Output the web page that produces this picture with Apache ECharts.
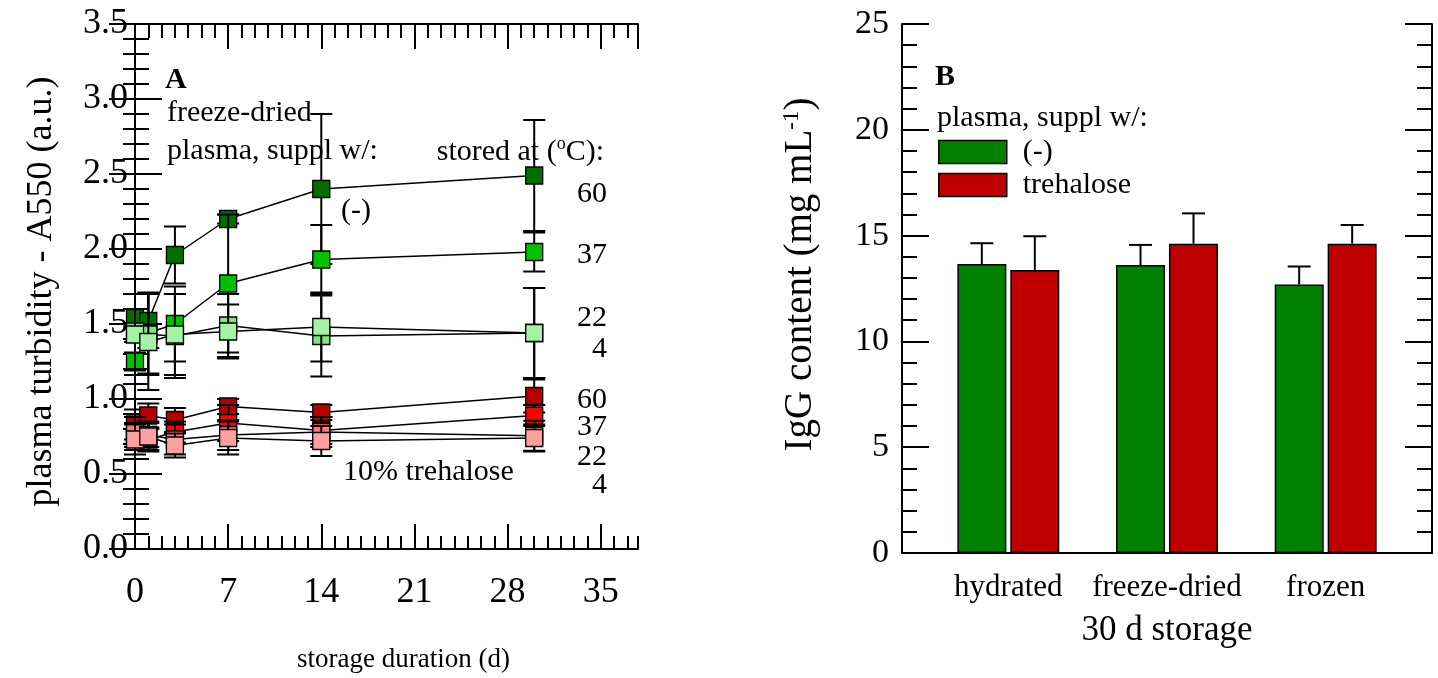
<!DOCTYPE html>
<html>
<head>
<meta charset="utf-8">
<script src="https://cdn.jsdelivr.net/npm/echarts@6/dist/echarts.min.js"></script>
<style>
  html, body { margin: 0; padding: 0; background: #fff; }
  #chart { width: 1438px; height: 678px; }
</style>
</head>
<body>
<div id="chart"></div>
<script>
// ---- Panel A: turbidity of freeze-dried plasma over storage time ----
const days = [0, 1, 3, 7, 14, 30];
const tempLabels = ['60', '37', '22', '4'];

// plasma without additive, stored at 60 / 37 / 22 / 4 °C
const plain60 = [1.54, 1.52, 1.96, 2.20, 2.40, 2.49];
const plain60Err = [0.16, 0.18, 0.19, 0.03, 0.50, 0.37];
const plain37 = [1.25, 1.44, 1.50, 1.77, 1.93, 1.98];
const plain37Err = [0.06, 0.27, 0.25, 0.46, 0.23, 0.13];
const plain22 = [1.45, 1.43, 1.42, 1.49, 1.42, 1.44];
const plain22Err = [0.25, 0.27, 0.28, 0.21, 0.27, 0.30];
const plain4 = [1.43, 1.38, 1.43, 1.45, 1.48, 1.44];
const plain4Err = [0.27, 0.32, 0.27, 0.18, 0.23, 0.30];

// plasma with 10% trehalose, stored at 60 / 37 / 22 / 4 °C
const treh60 = [0.83, 0.89, 0.86, 0.95, 0.91, 1.02];
const treh60Err = [0.10, 0.08, 0.08, 0.05, 0.05, 0.11];
const treh37 = [0.75, 0.73, 0.78, 0.84, 0.79, 0.89];
const treh37Err = [0.09, 0.07, 0.07, 0.12, 0.09, 0.07];
const treh22 = [0.78, 0.76, 0.73, 0.76, 0.78, 0.755];
const treh22Err = [0.10, 0.08, 0.10, 0.10, 0.10, 0.10];
const treh4 = [0.73, 0.75, 0.69, 0.74, 0.72, 0.74];
const treh4Err = [0.10, 0.10, 0.08, 0.11, 0.10, 0.09];

// ---- Panel B: IgG content after 30 d storage ----
const storageModes = ['hydrated', 'freeze-dried', 'frozen'];
const iggPlain = [13.66, 13.61, 12.69];
const iggPlainErr = [0.98, 0.95, 0.85];
const iggTreh = [13.38, 14.62, 14.62];
const iggTrehErr = [1.59, 1.43, 0.88];

const FONT = "'Liberation Serif', 'Times New Roman', serif";
const BLACK = '#000';

const lineSets = [
  { name: '(-) 60', vals: plain60, errs: plain60Err, color: '#006f00' },
  { name: '(-) 37', vals: plain37, errs: plain37Err, color: '#00c000' },
  { name: '(-) 22', vals: plain22, errs: plain22Err, color: '#80e680' },
  { name: '(-) 4', vals: plain4, errs: plain4Err, color: '#a4f2a4' },
  { name: 'trehalose 60', vals: treh60, errs: treh60Err, color: '#b40000' },
  { name: 'trehalose 37', vals: treh37, errs: treh37Err, color: '#ff0000' },
  { name: 'trehalose 22', vals: treh22, errs: treh22Err, color: '#ff7a7a' },
  { name: 'trehalose 4', vals: treh4, errs: treh4Err, color: '#ffa0a0' }
];

const tickLine = { color: BLACK, width: 2 };
const tickFontA = { color: BLACK, fontSize: 36, fontFamily: FONT };
const tickFontB = { color: BLACK, fontSize: 34, fontFamily: FONT };

function errorBarSeries(set, z) {
  return {
    type: 'custom',
    name: set.name + ' err',
    xAxisIndex: 0,
    yAxisIndex: 0,
    z: z,
    silent: true,
    data: days.map((d, i) => [d, set.vals[i], set.errs[i]]),
    encode: { x: 0, y: 1 },
    renderItem: function (params, api) {
      const x = api.value(0), y = api.value(1), e = api.value(2);
      const top = api.coord([x, y + e]);
      const bot = api.coord([x, y - e]);
      const half = 11;
      const style = { stroke: BLACK, lineWidth: 2 };
      return {
        type: 'group',
        children: [
          { type: 'line', shape: { x1: top[0], y1: top[1], x2: bot[0], y2: bot[1] }, style },
          { type: 'line', shape: { x1: top[0] - half, y1: top[1], x2: top[0] + half, y2: top[1] }, style },
          { type: 'line', shape: { x1: bot[0] - half, y1: bot[1], x2: bot[0] + half, y2: bot[1] }, style }
        ]
      };
    }
  };
}

function markerSeries(set, z) {
  return {
    type: 'line',
    name: set.name,
    xAxisIndex: 0,
    yAxisIndex: 0,
    z: z,
    data: days.map((d, i) => [d, set.vals[i]]),
    symbol: 'rect',
    symbolSize: 17,
    showAllSymbol: true,
    lineStyle: { color: BLACK, width: 1.5 },
    itemStyle: { color: set.color, borderColor: BLACK, borderWidth: 1.3 },
    emphasis: { disabled: true },
    animation: false
  };
}

const seriesA = [];
lineSets.forEach((set, k) => {
  seriesA.push(errorBarSeries(set, 2 + k * 2));
  seriesA.push(markerSeries(set, 3 + k * 2));
});

// bar groups sit at 1, 2, 3 on the panel-B x axis
const BAR_W = 49;
const BAR_OFFSET = 26.5;

function barErrSeries(vals, errs, dir, name) {
  return {
    type: 'custom',
    name: name,
    xAxisIndex: 4,
    yAxisIndex: 2,
    z: 5,
    silent: true,
    data: vals.map((v, i) => [i + 1, v, errs[i]]),
    encode: { x: 0, y: 1 },
    renderItem: function (params, api) {
      const x = api.value(0), y = api.value(1), e = api.value(2);
      const base = api.coord([x, y]);
      const top = api.coord([x, y + e]);
      const cx = base[0] + dir * BAR_OFFSET;
      const half = 11.5;
      const style = { stroke: BLACK, lineWidth: 2 };
      return {
        type: 'group',
        children: [
          { type: 'line', shape: { x1: cx, y1: base[1], x2: cx, y2: top[1] }, style },
          { type: 'line', shape: { x1: cx - half, y1: top[1], x2: cx + half, y2: top[1] }, style }
        ]
      };
    }
  };
}

const seriesB = [
  {
    type: 'bar', name: '(-)', xAxisIndex: 4, yAxisIndex: 2,
    data: iggPlain.map((v, i) => [i + 1, v]),
    barWidth: BAR_W, barGap: '8%',
    itemStyle: { color: '#008000', borderColor: BLACK, borderWidth: 1.5 },
    emphasis: { disabled: true }, z: 3
  },
  {
    type: 'bar', name: 'trehalose', xAxisIndex: 4, yAxisIndex: 2,
    data: iggTreh.map((v, i) => [i + 1, v]),
    barWidth: BAR_W, barGap: '8%',
    itemStyle: { color: '#c00000', borderColor: BLACK, borderWidth: 1.5 },
    emphasis: { disabled: true }, z: 3
  },
  barErrSeries(iggPlain, iggPlainErr, -1, '(-) err'),
  barErrSeries(iggTreh, iggTrehErr, 1, 'trehalose err')
];

function txt(text, x, y, opts) {
  opts = opts || {};
  return {
    type: 'text', z: 50, silent: true,
    style: Object.assign({
      text: text, x: x, y: y,
      fill: BLACK,
      font: (opts.bold ? 'bold ' : '') + (opts.size || 30) + 'px ' + FONT,
      textAlign: opts.align || 'left',
      textVerticalAlign: 'middle'
    }, opts.extra || {})
  };
}

const supRich = {
  a: { fontSize: 30, fontFamily: FONT, color: BLACK, lineHeight: 34 },
  s: { fontSize: 18, fontFamily: FONT, color: BLACK, lineHeight: 34, verticalAlign: 'top', padding: [0, 0, 14, 0] }
};

const option = {
  animation: false,
  backgroundColor: '#fff',
  grid: [
    { left: 135, top: 24, width: 503, height: 529 },
    { left: 902, top: 24, width: 530, height: 529 }
  ],
  xAxis: [
    { // 0: panel A bottom, major
      gridIndex: 0, type: 'value', position: 'bottom', min: 0, max: 37.8, interval: 7,
      axisLine: { show: true, lineStyle: tickLine },
      axisTick: { show: true, inside: true, length: 25, lineStyle: tickLine },
      axisLabel: Object.assign({ margin: 26, showMaxLabel: false }, tickFontA),
      splitLine: { show: false },
      name: 'storage duration (d)', nameLocation: 'middle', nameGap: 97,
      nameTextStyle: { color: BLACK, fontSize: 27, fontFamily: FONT, padding: [0, 0, 0, 34] }
    },
    { // 1: panel A bottom, day ticks
      gridIndex: 0, type: 'value', position: 'bottom', min: 0, max: 37.8, interval: 1,
      axisLine: { show: false },
      axisTick: { show: true, inside: true, length: 13, lineStyle: tickLine },
      axisLabel: { show: false }, splitLine: { show: false }
    },
    { // 2: panel A top, major
      gridIndex: 0, type: 'value', position: 'top', min: 0, max: 37.8, interval: 7,
      axisLine: { show: true, lineStyle: tickLine },
      axisTick: { show: true, inside: true, length: 25, lineStyle: tickLine },
      axisLabel: { show: false }, splitLine: { show: false }
    },
    { // 3: panel A top, day ticks
      gridIndex: 0, type: 'value', position: 'top', min: 0, max: 37.8, interval: 1,
      axisLine: { show: false },
      axisTick: { show: true, inside: true, length: 14, lineStyle: tickLine },
      axisLabel: { show: false }, splitLine: { show: false }
    },
    { // 4: panel B bottom, storage modes
      gridIndex: 1, type: 'value', position: 'bottom', min: 0.33, max: 3.67,
      axisLine: { show: true, lineStyle: tickLine },
      axisTick: { show: false },
      axisLabel: {
        margin: 19, fontSize: 31, color: BLACK, fontFamily: FONT,
        customValues: [1, 2, 3],
        formatter: v => storageModes[Math.round(v) - 1] || ''
      },
      splitLine: { show: false },
      name: '30 d storage', nameLocation: 'middle', nameGap: 60,
      nameTextStyle: { color: BLACK, fontSize: 35, fontFamily: FONT }
    },
    { // 5: panel B top frame
      gridIndex: 1, type: 'value', position: 'top', min: 0.33, max: 3.67,
      axisLine: { show: true, lineStyle: tickLine },
      axisTick: { show: false }, axisLabel: { show: false }, splitLine: { show: false }
    }
  ],
  yAxis: [
    { // 0: panel A left
      gridIndex: 0, type: 'value', position: 'left', min: 0, max: 3.5, interval: 0.5,
      axisLine: { show: true, lineStyle: tickLine },
      axisTick: { show: true, inside: true, length: 27, lineStyle: tickLine },
      minorTick: { show: true, splitNumber: 5, length: 14, lineStyle: tickLine },
      axisLabel: Object.assign({ margin: 7, formatter: v => v.toFixed(1) }, tickFontA),
      splitLine: { show: false }, minorSplitLine: { show: false },
      name: 'plasma turbidity - A550 (a.u.)', nameLocation: 'middle', nameGap: 75,
      nameTextStyle: { color: BLACK, fontSize: 36, fontFamily: FONT, padding: [0, 10, 0, 0] }
    },
    { // 1: panel A right
      gridIndex: 0, type: 'value', position: 'right', min: 0, max: 3.5, interval: 0.5,
      axisLine: { show: true, lineStyle: tickLine },
      axisTick: { show: true, inside: true, length: 26, lineStyle: tickLine },
      minorTick: { show: true, splitNumber: 5, length: 12, lineStyle: tickLine },
      axisLabel: { show: false }, splitLine: { show: false }
    },
    { // 2: panel B left
      gridIndex: 1, type: 'value', position: 'left', min: 0, max: 25, interval: 5,
      axisLine: { show: true, lineStyle: tickLine },
      axisTick: { show: true, inside: true, length: 27, lineStyle: tickLine },
      minorTick: { show: true, splitNumber: 5, length: 15, lineStyle: tickLine },
      axisLabel: Object.assign({ margin: 13 }, tickFontB),
      splitLine: { show: false },
      name: '{a|IgG content (mg mL}{s|-1}{a|)}', nameLocation: 'middle', nameGap: 80,
      nameTextStyle: { color: BLACK, fontFamily: FONT, fontSize: 39, padding: [0, 0, 0, 28], rich: {
        a: { fontSize: 39, fontFamily: FONT, color: BLACK, lineHeight: 42 },
        s: { fontSize: 23, fontFamily: FONT, color: BLACK, lineHeight: 42, verticalAlign: 'top', padding: [0, 0, 19, 0] }
      } }
    },
    { // 3: panel B right
      gridIndex: 1, type: 'value', position: 'right', min: 0, max: 25, interval: 5,
      axisLine: { show: true, lineStyle: tickLine },
      axisTick: { show: true, inside: true, length: 27, lineStyle: tickLine },
      minorTick: { show: true, splitNumber: 5, length: 15, lineStyle: tickLine },
      axisLabel: { show: false }, splitLine: { show: false }
    }
  ],
  legend: {
    data: ['(-)', 'trehalose'],
    orient: 'vertical',
    left: 938, top: 137, padding: 0,
    icon: 'rect',
    itemWidth: 68, itemHeight: 23, itemGap: 3,
    selectedMode: false,
    itemStyle: { borderColor: BLACK, borderWidth: 1.5 },
    textStyle: { color: BLACK, fontSize: 30, fontFamily: FONT, padding: [0, 0, 0, 11] }
  },
  series: seriesA.concat(seriesB),
  graphic: [
    // panel A annotations
    txt('A', 165, 80, { bold: true, size: 30 }),
    txt('freeze-dried', 167, 113),
    txt('plasma, suppl w/:', 167, 151),
    txt('{a|stored at (}{s|o}{a|C):}', 604, 152, { align: 'right', extra: { rich: supRich } }),
    txt('(-)', 341, 211),
    txt(tempLabels[0], 607, 194, { align: 'right' }),
    txt(tempLabels[1], 607, 255, { align: 'right' }),
    txt(tempLabels[2], 607, 318, { align: 'right' }),
    txt(tempLabels[3], 607, 349, { align: 'right' }),
    txt(tempLabels[0], 607, 400, { align: 'right' }),
    txt(tempLabels[1], 607, 427, { align: 'right' }),
    txt(tempLabels[2], 607, 457, { align: 'right' }),
    txt(tempLabels[3], 607, 485, { align: 'right' }),
    txt('10% trehalose', 343, 472),
    // panel B annotations
    txt('B', 935, 77, { bold: true, size: 30 }),
    txt('plasma, suppl w/:', 937, 118)
  ]
};

const chart = echarts.init(document.getElementById('chart'), null, { renderer: 'canvas' });
chart.setOption(option);
</script>
</body>
</html>
